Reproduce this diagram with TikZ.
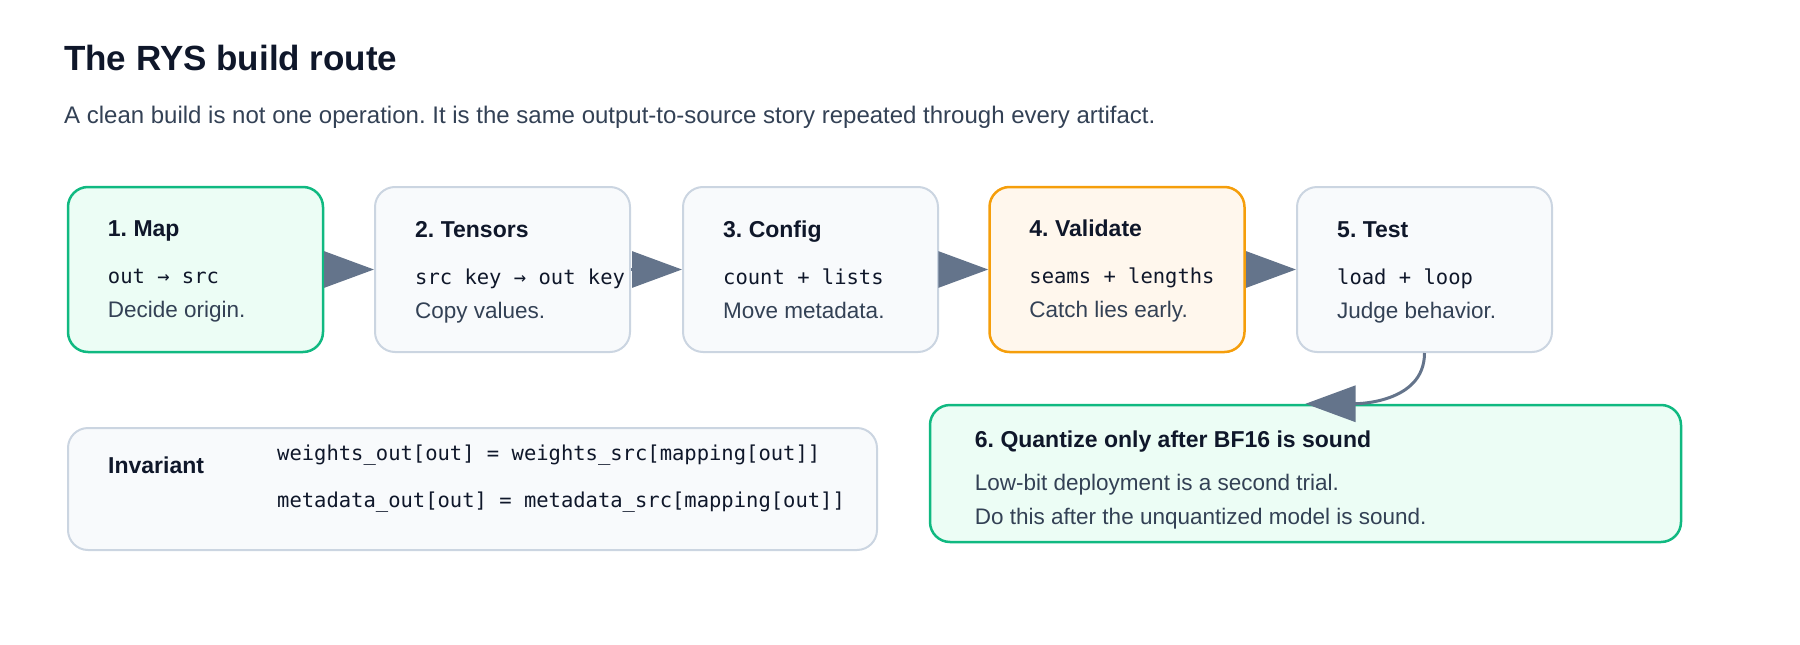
\documentclass[tikz,border=0pt]{standalone}
\usepackage{fontspec}
\setmainfont{Liberation Sans}
\setmonofont{DejaVu Sans Mono}
\usetikzlibrary{arrows.meta,positioning}
\frenchspacing

\definecolor{ink}{HTML}{0F172A}
\definecolor{body}{HTML}{334155}
\definecolor{slate}{HTML}{64748B}
\definecolor{greenline}{HTML}{10B981}
\definecolor{greenfill}{HTML}{ECFDF5}
\definecolor{greyline}{HTML}{CBD5E1}
\definecolor{greyfill}{HTML}{F8FAFC}
\definecolor{orangeline}{HTML}{F59E0B}
\definecolor{orangefill}{HTML}{FFF7ED}

\tikzset{
  box/.style={draw=greyline, fill=greyfill, line width=2pt, rounded corners=20pt,
    minimum width=255pt, minimum height=165pt, inner sep=0pt},
  done/.style={box, draw=greenline, fill=greenfill, line width=2.5pt},
  warn/.style={box, draw=orangeline, fill=orangefill, line width=2.5pt},
  head/.style={anchor=base west, text=ink, font=\fontsize{23}{27}\selectfont\bfseries, inner sep=0pt},
  code/.style={anchor=base west, text=ink, font=\fontsize{20.5}{24}\selectfont\ttfamily, inner sep=0pt},
  note/.style={anchor=base west, text=body, font=\fontsize{22.5}{27}\selectfont, inner sep=0pt},
  flow/.style={draw=slate, line width=3pt, -{Triangle[length=50pt,width=36pt]}}
}

\begin{document}
\begin{tikzpicture}[x=1pt, y=-1pt]
    \useasboundingbox (0,0) rectangle (1800,645);

    % Title
    \node[anchor=base west, text=ink, font=\fontsize{35}{42}\selectfont\bfseries, inner sep=0pt] (title) at (64,70) {The RYS build route};
    \node[note, font=\fontsize{24}{28}\selectfont] (sub) at (64,123) {A clean build is not one operation. It is the same output-to-source story repeated through every artifact.};

    % Steps
    \node[done] (map) at (195.5,269.5) {};
    \node[head] at ([xshift=41pt,yshift=-51pt]map.north west) {1. Map};
    \node[code] at ([xshift=41pt,yshift=-98pt]map.north west) {out → src};
    \node[note] at ([xshift=41pt,yshift=-132pt]map.north west) {Decide origin.};

    \node[box] (tensors) at (502.5,269.5) {};
    \node[head] at ([xshift=41pt,yshift=-51pt]tensors.north west) {2. Tensors};
    \node[code] at ([xshift=41pt,yshift=-98pt]tensors.north west) {src key → out key};
    \node[note] at ([xshift=41pt,yshift=-132pt]tensors.north west) {Copy values.};

    \node[box] (config) at (810.5,269.5) {};
    \node[head] at ([xshift=41pt,yshift=-51pt]config.north west) {3. Config};
    \node[code] at ([xshift=41pt,yshift=-98pt]config.north west) {count + lists};
    \node[note] at ([xshift=41pt,yshift=-132pt]config.north west) {Move metadata.};

    \node[warn] (validate) at (1117,269.5) {};
    \node[head] at ([xshift=41pt,yshift=-51pt]validate.north west) {4. Validate};
    \node[code] at ([xshift=41pt,yshift=-98pt]validate.north west) {seams + lengths};
    \node[note] at ([xshift=41pt,yshift=-132pt]validate.north west) {Catch lies early.};

    \node[box] (test) at (1424.5,269.5) {};
    \node[head] at ([xshift=41pt,yshift=-51pt]test.north west) {5. Test};
    \node[code] at ([xshift=41pt,yshift=-98pt]test.north west) {load + loop};
    \node[note] at ([xshift=41pt,yshift=-132pt]test.north west) {Judge behavior.};

    % Quantize
    \node[done, minimum width=751pt, minimum height=137pt] (quant) at (1305.5,473.5) {};
    \node[head] at ([xshift=46pt,yshift=-44pt]quant.north west) {6. Quantize only after BF16 is sound};
    \node[note] at ([xshift=46pt,yshift=-87pt]quant.north west) {Low-bit deployment is a second trial.};
    \node[note] at ([xshift=46pt,yshift=-121pt]quant.north west) {Do this after the unquantized model is sound.};

    % Invariant
    \node[box, minimum width=809pt, minimum height=122pt] (inv) at (472.5,489) {};
    \node[head] at ([xshift=41pt,yshift=-46pt]inv.north west) {Invariant};
    \node[code] at ([xshift=210pt,yshift=-33pt]inv.north west) {weights\_out[out] = weights\_src[mapping[out]]};
    \node[code] at ([xshift=210pt,yshift=-80pt]inv.north west) {metadata\_out[out] = metadata\_src[mapping[out]]};

    % Arrows
    \draw[flow] (map) -- (tensors);
    \draw[flow] (tensors) -- (config);
    \draw[flow] (config) -- (validate);
    \draw[flow] (validate) -- (test);
    \draw[flow] (test.south) to[out=-90, in=0] (quant.north);

\end{tikzpicture}
\end{document}
